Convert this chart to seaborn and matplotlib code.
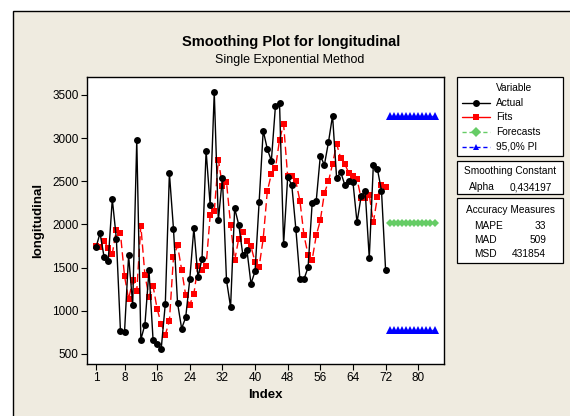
import numpy as np
import pandas as pd
import matplotlib
matplotlib.use("Agg")
import matplotlib.pyplot as plt
import seaborn as sns
from matplotlib.patches import Rectangle
from matplotlib.lines import Line2D

# values
actual = [1734, 1900, 1619, 1580, 2293, 1835, 771, 755, 1642, 1071,
          2976, 667, 840, 1468, 659, 613, 563, 1083, 2594, 1950,
          1091, 794, 925, 1368, 1958, 1391, 1603, 2852, 2220, 3531,
          2047, 2544, 1353, 1044, 2189, 1997, 1650, 1707, 1314, 1457,
          2259, 3088, 2875, 2737, 3373, 3411, 1773, 2548, 2459, 1950,
          1368, 1368, 1503, 2247, 2274, 2795, 2690, 2953, 3261, 2536,
          2606, 2459, 2505, 2490, 2024, 2324, 2382, 1611, 2690, 2640,
          2390, 1476]
fits = [1746, 1741, 1811, 1723, 1661, 1935, 1898, 1403, 1133, 1353,
        1229, 1985, 1414, 1163, 1287, 1021, 848, 724, 879, 1623,
        1758, 1476, 1179, 1071, 1195, 1522, 1468, 1522, 2108, 2151,
        2752, 2444, 2490, 1997, 1584, 1835, 1912, 1804, 1746, 1565,
        1511, 1835, 2382, 2586, 2652, 2980, 3161, 2556, 2556, 2498,
        2274, 1873, 1650, 1592, 1873, 2047, 2363, 2498, 2702, 2933,
        2768, 2702, 2594, 2556, 2525, 2305, 2305, 2344, 2024, 2317,
        2459, 2432]
forecast_value = 2020
pi_upper = 3260
pi_lower = 775
n_forecast = 12
alpha_text = "0,434197"
measures = [("MAPE", "33"), ("MAD", "509"), ("MSD", "431854")]

idx = np.arange(1, len(actual) + 1)
fidx = np.arange(len(actual) + 1, len(actual) + 1 + n_forecast)
df = pd.DataFrame({"Index": idx, "Actual": actual, "Fits": fits})
fc = pd.DataFrame({"Index": fidx,
                   "Forecast": [forecast_value] * n_forecast,
                   "Upper": [pi_upper] * n_forecast,
                   "Lower": [pi_lower] * n_forecast})

sns.set_style("ticks")
plt.rcParams["font.family"] = ["Liberation Sans", "DejaVu Sans"]
plt.rcParams.update({"text.color": "black", "axes.labelcolor": "black",
                     "xtick.color": "black", "ytick.color": "black"})

W, H = 570, 416
beige = "#EFEBE0"
fig = plt.figure(figsize=(W / 100, H / 100), dpi=100, facecolor="white")

def fx(px):
    return px / W

def fy(py):
    return 1 - py / H

# outer frame
fig.patches.append(Rectangle((fx(13), -0.1), 1.1, fy(11) + 0.1, transform=fig.transFigure,
                             facecolor=beige, edgecolor="black", lw=1.0, zorder=-10))

ax = fig.add_axes([fx(87), fy(364), fx(443.5) - fx(87), fy(77) - fy(364)])
ax.set_facecolor("white")

sns.lineplot(data=df, x="Index", y="Actual", ax=ax, color="black", lw=1.0,
             marker="o", markersize=5, markeredgewidth=0, zorder=3)
sns.lineplot(data=df, x="Index", y="Fits", ax=ax, color="#FF0000", lw=1.0,
             dashes=(6, 3), marker="s", markersize=5, markeredgewidth=0, zorder=2)
sns.lineplot(data=fc, x="Index", y="Forecast", ax=ax, color="#66CC66", lw=1.0,
             dashes=(3, 2), marker="D", markersize=4.5, markeredgewidth=0)
sns.lineplot(data=fc, x="Index", y="Upper", ax=ax, color="#0000FF", lw=1.0,
             dashes=(3, 2), marker="^", markersize=5.5, markeredgewidth=0)
sns.lineplot(data=fc, x="Index", y="Lower", ax=ax, color="#0000FF", lw=1.0,
             dashes=(3, 2), marker="^", markersize=5.5, markeredgewidth=0)

ax.set_xlim(-1.2, 86.2)
ax.set_ylim(384, 3708)
ax.set_xticks([1, 8, 16, 24, 32, 40, 48, 56, 64, 72, 80])
ax.set_yticks([500, 1000, 1500, 2000, 2500, 3000, 3500])
ax.tick_params(axis="both", labelsize=8.5, length=4, width=0.8, color="black", pad=2)
for s in ax.spines.values():
    s.set_visible(True)
    s.set_color("black")
    s.set_linewidth(1.0)
ax.set_xlabel("Index", fontsize=9.5, fontweight="bold", labelpad=3)
ax.set_ylabel("longitudinal", fontsize=9.5, fontweight="bold", labelpad=6)

fig.text(fx(291), fy(42), "Smoothing Plot for longitudinal", ha="center", va="center",
         fontsize=10.5, fontweight="bold")
fig.text(fx(290), fy(60), "Single Exponential Method", ha="center", va="center", fontsize=9)

# side boxes
def box(top, bottom):
    fig.patches.append(Rectangle((fx(457), fy(bottom)), fx(563) - fx(457), fy(top) - fy(bottom),
                                 transform=fig.transFigure, facecolor="white",
                                 edgecolor="black", lw=0.9, zorder=1))

box(77, 156)
box(161, 194)
box(198, 263)

fs = 7.3
fig.text(fx(496), fy(88), "Variable", ha="left", va="center", fontsize=fs)
entries = [("Actual", "black", "-", "o", 102.7),
           ("Fits", "#FF0000", "-", "s", 117.3),
           ("Forecasts", "#66CC66", "--", "D", 131.7),
           ("95,0% PI", "#0000FF", "--", "^", 146.7)]
for label, col, ls, mk, yy in entries:
    fig.lines.append(Line2D([fx(462), fx(490)], [fy(yy), fy(yy)], transform=fig.transFigure,
                            color=col, lw=1.0, ls=ls, dashes=(3, 2) if ls == "--" else (None, None),
                            zorder=2))
    fig.lines.append(Line2D([fx(476)], [fy(yy)], transform=fig.transFigure, color=col,
                            marker=mk, markersize=5, markeredgewidth=0, zorder=3))
    fig.text(fx(496), fy(yy), label, ha="left", va="center", fontsize=fs)

fig.text(fx(510), fy(171), "Smoothing Constant", ha="center", va="center", fontsize=fs)
fig.text(fx(469), fy(187), "Alpha", ha="left", va="center", fontsize=fs)
fig.text(fx(552), fy(187), alpha_text, ha="right", va="center", fontsize=fs)

fig.text(fx(510), fy(210), "Accuracy Measures", ha="center", va="center", fontsize=fs)
for i, (name, val) in enumerate(measures):
    yy = 226 + i * 14
    fig.text(fx(474), fy(yy), name, ha="left", va="center", fontsize=fs)
    fig.text(fx(546), fy(yy), val, ha="right", va="center", fontsize=fs)

fig.savefig("out.png", dpi=100, facecolor=fig.get_facecolor())
